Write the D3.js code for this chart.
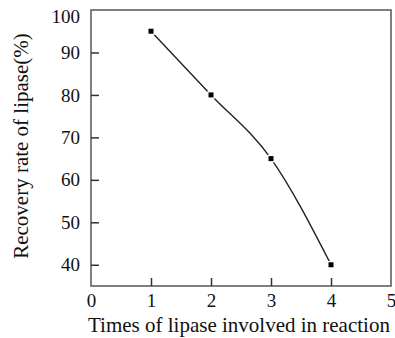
<!DOCTYPE html>
<meta charset="utf-8">
<style>
body { margin: 0; background: #fff; }
text { font-family: "Liberation Serif", "Times New Roman", serif; fill: #111; }
</style>
<svg width="395" height="338"></svg>
<script src="https://d3js.org/d3.v7.min.js"></script>
<script>

var times = [1, 2, 3, 4];
var recovery = [95, 80, 65, 40];
var xTicks = [0, 1, 2, 3, 4, 5];
var yTicks = [40, 50, 60, 70, 80, 90, 100];

var svg = d3.select("svg"),
    margin = {top: 10, right: 4, bottom: 52, left: 91},
    width = +svg.attr("width") - margin.left - margin.right,
    height = +svg.attr("height") - margin.top - margin.bottom;

var x = d3.scaleLinear().domain([0, 5]).range([0, width]);
var y = d3.scaleLinear().domain([35, 100]).range([height, 0]);

var g = svg.append("g")
    .attr("transform", "translate(" + margin.left + "," + margin.top + ")");

// frame
g.append("rect")
    .attr("width", width)
    .attr("height", height)
    .attr("fill", "none")
    .attr("stroke", "#555")
    .attr("stroke-width", 1.5);

// x axis, ticks point inward
var xAxis = g.append("g")
    .attr("transform", "translate(0," + height + ")")
    .call(d3.axisBottom(x).tickValues(xTicks).tickSize(-8).tickPadding(8).tickFormat(d3.format("d")));
xAxis.select(".domain").remove();
xAxis.selectAll("line").attr("stroke", "#333").attr("stroke-width", 1.5)
    .filter(function(d) { return d === 0 || d === 5; }).remove();
xAxis.selectAll("text").attr("font-size", 19).attr("fill", "#111");

// y axis
var yAxis = g.append("g")
    .call(d3.axisLeft(y).tickValues(yTicks).tickSize(-8).tickPadding(11));
yAxis.select(".domain").remove();
yAxis.selectAll("line").attr("stroke", "#333").attr("stroke-width", 1.5)
    .filter(function(d) { return d === 100; }).remove();
yAxis.selectAll("text").attr("font-size", 19).attr("fill", "#111");
// the top label sits a bit below the frame corner
yAxis.selectAll("text").filter(function(d) { return d === 100; }).attr("dy", "0.65em");

var pts = times.map(function(t, i) { return [t, recovery[i]]; });

var line = d3.line()
    .x(function(d) { return x(d[0]); })
    .y(function(d) { return y(d[1]); })
    .curve(d3.curveMonotoneX);

g.append("path")
    .datum(pts)
    .attr("fill", "none")
    .attr("stroke", "#222")
    .attr("stroke-width", 1.4)
    .attr("d", line);

g.selectAll(".pt")
    .data(pts)
  .enter().append("rect")
    .attr("class", "pt")
    .attr("x", function(d) { return x(d[0]) - 2.5; })
    .attr("y", function(d) { return y(d[1]) - 2.5; })
    .attr("width", 5)
    .attr("height", 5)
    .attr("fill", "#000")
    .attr("stroke", "#fff")
    .attr("stroke-width", 2.5)
    .attr("paint-order", "stroke");

svg.append("text")
    .attr("x", 88)
    .attr("y", 332)
    .attr("text-anchor", "start")
    .attr("font-size", 21)
    .text("Times of lipase involved in reaction");

svg.append("text")
    .attr("transform", "translate(28,146) rotate(-90)")
    .attr("text-anchor", "middle")
    .attr("font-size", 21)
    .text("Recovery rate of lipase(%)");

</script>
